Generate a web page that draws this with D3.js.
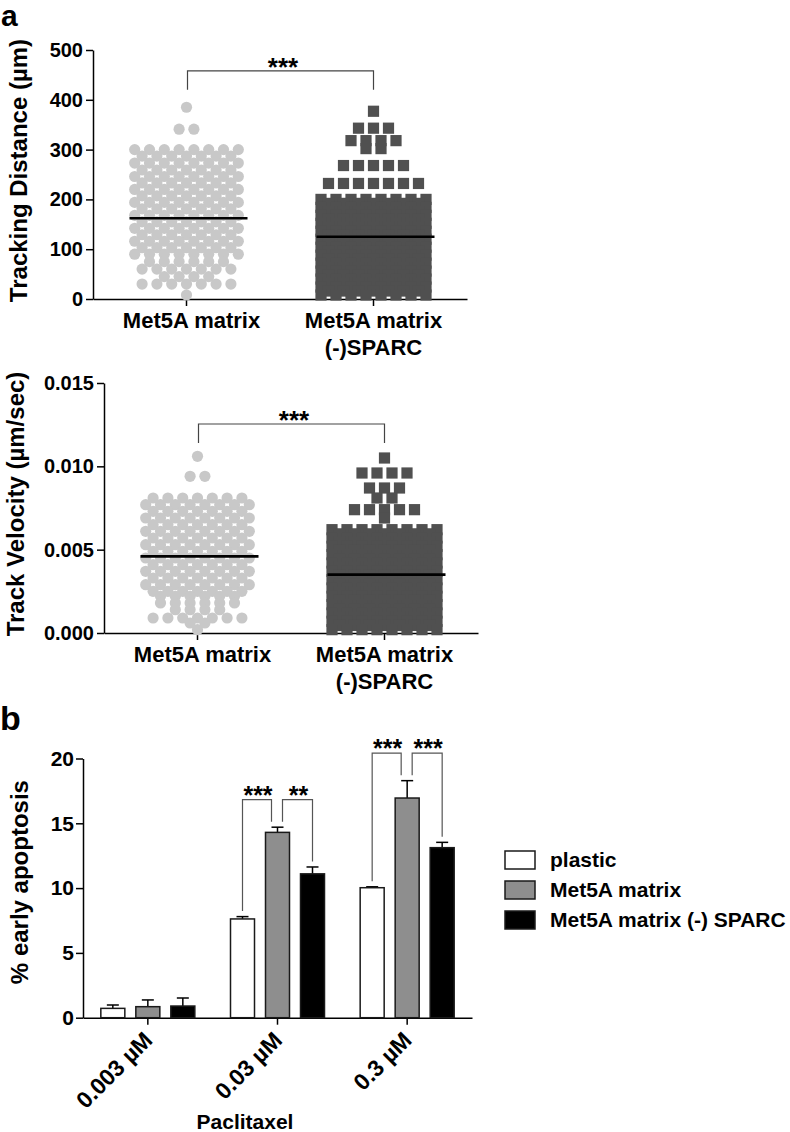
<!DOCTYPE html>
<html>
<head>
<meta charset="utf-8">
<script src="https://cdn.jsdelivr.net/npm/d3@7/dist/d3.min.js"></script>
<style>
body { margin: 0; background: #fff; }
text { font-family: "Liberation Sans", Arial, sans-serif; font-weight: bold; fill: #000; }
</style>
</head>
<body>
<script>
// ---------- panel a : scatter dot plots (rows of points: value + how many in the row) ----------
var scatterCats = ["Met5A matrix", "Met5A matrix\n(-)SPARC"];

var distMetVals   = [385, 341, 300, 287, 273, 259, 246, 233, 220, 207, 194, 181, 168, 155, 142, 129, 116, 103, 90, 75, 60, 45, 30, 8];
var distMetCounts = [1, 2, 8, 7, 8, 7, 8, 7, 8, 7, 8, 7, 8, 7, 8, 7, 8, 7, 8, 6, 7, 4, 7, 1];
var distSparcVals   = [377, 343, 318, 302, 268, 232, 200, 192, 184, 176, 168, 160, 152, 144, 136, 128, 120, 112, 104, 96, 88, 80, 72, 64, 56, 48, 40, 32, 24, 16, 8];
var distSparcCounts = [1, 3, 4, 2, 5, 7, 8, 7, 8, 7, 8, 7, 8, 7, 8, 7, 8, 7, 8, 7, 8, 7, 8, 7, 8, 7, 8, 7, 8, 7, 8];
var distMeans = [162, 125];
var distTicks = [0, 100, 200, 300, 400, 500];

var velMetVals   = [0.0106, 0.0094, 0.0081, 0.0077, 0.0073, 0.0069, 0.0065, 0.0061, 0.0057, 0.0053, 0.0049, 0.0045, 0.0041, 0.0037, 0.0033, 0.0029, 0.0025, 0.0022, 0.0018, 0.0014, 0.0009, 0.0006, 0.0002];
var velMetCounts = [1, 2, 7, 8, 7, 8, 7, 8, 7, 8, 7, 8, 7, 8, 7, 8, 7, 6, 6, 4, 7, 2, 1];
var velSparcVals   = [0.0105, 0.0096, 0.0087, 0.0081, 0.0074, 0.0069, 0.0062, 0.00595, 0.0057, 0.00545, 0.0052, 0.00495, 0.0047, 0.00445, 0.0042, 0.00395, 0.0037, 0.00345, 0.0032, 0.00295, 0.0027, 0.00245, 0.0022, 0.00195, 0.0017, 0.00145, 0.0012, 0.00095, 0.0007, 0.00045, 0.0002];
var velSparcCounts = [1, 4, 3, 2, 5, 1, 8, 7, 8, 7, 8, 7, 8, 7, 8, 7, 8, 7, 8, 7, 8, 7, 8, 7, 8, 7, 8, 7, 8, 7, 8];
var velMeans = [0.0046, 0.0035];
var velTicks = [0, 0.005, 0.010, 0.015];

// ---------- panel b : bars ----------
var doseCats = ["0.003 \u00b5M", "0.03 \u00b5M", "0.3 \u00b5M"];
var seriesNames = ["plastic", "Met5A matrix", "Met5A matrix (-) SPARC"];
var plasticMean = [0.72, 7.62, 10.03];
var plasticSem  = [0.26, 0.18, 0.07];
var met5aMean   = [0.85, 14.3, 16.95];
var met5aSem    = [0.52, 0.40, 1.34];
var sparcMean   = [0.90, 11.1, 13.12];
var sparcSem    = [0.62, 0.53, 0.41];
var apopTicks = [0, 5, 10, 15, 20];
// significance brackets: dose index, from series, to series, label
var sigDose  = [1, 1, 2, 2];
var sigFrom  = [0, 1, 0, 1];
var sigTo    = [1, 2, 1, 2];
var sigLabel = ["***", "**", "***", "***"];

var svg = d3.select("body").append("svg")
            .attr("width", 790)
            .attr("height", 1132);

svg.append("rect").attr("width", 790).attr("height", 1132).attr("fill", "#fff");

function styleAxis(g, fs){
    g.select(".domain").attr("stroke", "#000").attr("stroke-width", 1.5);
    g.selectAll(".tick line").attr("stroke", "#000").attr("stroke-width", 1.5);
    g.selectAll(".tick text").style("font-size", fs + "px");
}

function rowsToPoints(vals, counts, spacing){
    var pts = [];
    vals.forEach(function(v, i){
        var n = counts[i];
        for(var k = 0; k < n; k++){
            pts.push({v: v, dx: (k - (n - 1) / 2) * spacing});
        }
    });
    return pts;
}

function scatterPanel(p){
    var x = d3.scaleBand().domain([0, 1]).range([p.left, p.right]);
    var y = d3.scaleLinear().domain(p.domain).range([p.bottom, p.top]);

    var ya = svg.append("g")
                .attr("transform", "translate(" + p.left + ",0)")
                .call(d3.axisLeft(y).tickValues(p.ticks).tickFormat(p.fmt)
                        .tickSize(7).tickSizeOuter(0).tickPadding(3));
    styleAxis(ya, 20);

    var xa = svg.append("g")
                .attr("transform", "translate(0," + p.bottom + ")")
                .call(d3.axisBottom(x).tickSize(7).tickSizeOuter(0).tickFormat(""));
    styleAxis(xa, 22);

    var cx = [x(0) + x.bandwidth() / 2, x(1) + x.bandwidth() / 2];

    scatterCats.forEach(function(c, i){
        var t = svg.append("text")
                   .attr("y", p.bottom + 29)
                   .attr("text-anchor", "middle")
                   .style("font-size", "22px");
        c.split("\n").forEach(function(line, j){
            t.append("tspan").attr("x", cx[i] + (i == 0 ? 5 : 0)).attr("dy", j ? 27 : 0).text(line);
        });
    });

    svg.append("g").selectAll("circle")
       .data(rowsToPoints(p.vals0, p.counts0, 14.8))
       .join("circle")
       .attr("cx", function(d){ return cx[0] + d.dx; })
       .attr("cy", function(d){ return y(d.v); })
       .attr("r", 5.6)
       .attr("fill", "#c8c8c8");

    svg.append("g").selectAll("rect")
       .data(rowsToPoints(p.vals1, p.counts1, 15))
       .join("rect")
       .attr("x", function(d){ return cx[1] + d.dx - 5.6; })
       .attr("y", function(d){ return y(d.v) - 5.6; })
       .attr("width", 11.2)
       .attr("height", 11.2)
       .attr("fill", "#505050");

    p.means.forEach(function(m, i){
        svg.append("line")
           .attr("x1", cx[i] - 57).attr("x2", cx[i] + 61)
           .attr("y1", y(m)).attr("y2", y(m))
           .attr("stroke", "#000").attr("stroke-width", 2.6);
    });

    var by = y(p.brTop), bd = y(p.brDrop);
    svg.append("path")
       .attr("d", "M" + (cx[0] + 1) + "," + bd + "V" + by + "H" + cx[1] + "V" + bd)
       .attr("fill", "none").attr("stroke", "#444").attr("stroke-width", 1.2);
    svg.append("text")
       .attr("x", (cx[0] + cx[1]) / 2 + 3).attr("y", by + 5)
       .attr("text-anchor", "middle").style("font-size", "26px")
       .text("***");

    svg.append("text")
       .attr("transform", "translate(" + p.titleX + "," + ((p.top + p.bottom) / 2 - 4) + ") rotate(-90)")
       .attr("text-anchor", "middle").style("font-size", "24px")
       .text(p.title);
}

scatterPanel({
    left: 93, right: 467, top: 50, bottom: 299,
    domain: [0, 500], ticks: distTicks, fmt: d3.format("d"),
    vals0: distMetVals, counts0: distMetCounts,
    vals1: distSparcVals, counts1: distSparcCounts,
    means: distMeans, brTop: 458, brDrop: 420,
    titleX: 27, title: "Tracking Distance (\u00b5m)"
});

scatterPanel({
    left: 104, right: 478, top: 383, bottom: 633,
    domain: [0, 0.015], ticks: velTicks, fmt: d3.format(".3f"),
    vals0: velMetVals, counts0: velMetCounts,
    vals1: velSparcVals, counts1: velSparcCounts,
    means: velMeans, brTop: 0.01254, brDrop: 0.0114,
    titleX: 24, title: "Track Velocity (\u00b5m/sec)"
});

svg.append("text").attr("x", 1).attr("y", 26).style("font-size", "30px").text("a");
svg.append("text").attr("x", 0).attr("y", 730).style("font-size", "34px").text("b");

// ---------- panel b ----------
var means = [plasticMean, met5aMean, sparcMean];
var sems = [plasticSem, met5aSem, sparcSem];
var fills = ["#ffffff", "#8e8e8e", "#000000"];

var xg = d3.scaleBand().domain(doseCats).range([83, 472]);
var xs = d3.scaleBand().domain(seriesNames).range([-52.5, 52.5])
           .paddingInner(11 / 35).paddingOuter(11 / 70);
var yb = d3.scaleLinear().domain([0, 20]).range([1017.7, 758.5]);

function barX(si, gi){ return xg(doseCats[gi]) + xg.bandwidth() / 2 + xs(seriesNames[si]); }
function barC(si, gi){ return barX(si, gi) + xs.bandwidth() / 2; }
function barTop(si, gi){ return means[si][gi] + sems[si][gi]; }

var yaB = svg.append("g")
             .attr("transform", "translate(83,0)")
             .call(d3.axisLeft(yb).tickValues(apopTicks).tickSize(7).tickSizeOuter(0).tickPadding(2));
styleAxis(yaB, 21);

var xaB = svg.append("g")
             .attr("transform", "translate(0,1017.7)")
             .call(d3.axisBottom(xg).tickSize(7).tickSizeOuter(0));
styleAxis(xaB, 23);
xaB.selectAll(".tick text")
   .attr("x", 0).attr("y", 0).attr("dy", 0)
   .attr("text-anchor", "end")
   .attr("transform", "translate(6,24) rotate(-45)");

seriesNames.forEach(function(s, si){
    var g = svg.append("g");
    doseCats.forEach(function(d, gi){
        var c = barC(si, gi);
        g.append("line")
         .attr("x1", c).attr("x2", c)
         .attr("y1", yb(means[si][gi])).attr("y2", yb(barTop(si, gi)))
         .attr("stroke", "#000").attr("stroke-width", 1.5);
        g.append("line")
         .attr("x1", c - 6).attr("x2", c + 6)
         .attr("y1", yb(barTop(si, gi))).attr("y2", yb(barTop(si, gi)))
         .attr("stroke", "#000").attr("stroke-width", 1.5);
    });
    g.selectAll("rect")
     .data(means[si])
     .join("rect")
     .attr("x", function(v, gi){ return barX(si, gi); })
     .attr("y", function(v){ return yb(v); })
     .attr("width", xs.bandwidth())
     .attr("height", function(v){ return yb(0) - yb(v); })
     .attr("fill", fills[si])
     .attr("stroke", "#1a1a1a").attr("stroke-width", 1.5);
});

sigLabel.forEach(function(lab, k){
    var gi = sigDose[k], a = sigFrom[k], b = sigTo[k];
    var xa = barC(a, gi) + (a == 1 ? 5 : 0);
    var xb = barC(b, gi) - (b == 1 ? 6 : 0);
    var maxTop = 0;
    for(var s = 0; s < 3; s++) maxTop = Math.max(maxTop, barTop(s, gi));
    var top = yb(maxTop) - 27.5;
    svg.append("path")
       .attr("d", "M" + xa + "," + (yb(barTop(a, gi)) - 5.5) + "V" + top + "H" + xb + "V" + (yb(barTop(b, gi)) - 5.5))
       .attr("fill", "none").attr("stroke", "#555").attr("stroke-width", 1.2);
    svg.append("text")
       .attr("x", (xa + xb) / 2 + 1).attr("y", top + 4)
       .attr("text-anchor", "middle").style("font-size", "25px")
       .text(lab);
});

svg.append("text")
   .attr("transform", "translate(28," + ((yb(0) + yb(20)) / 2 - 6) + ") rotate(-90)")
   .attr("text-anchor", "middle").style("font-size", "24px")
   .text("% early apoptosis");

svg.append("text")
   .attr("x", 245).attr("y", 1129)
   .attr("text-anchor", "middle").style("font-size", "21px")
   .text("Paclitaxel");

// legend
var leg = svg.append("g").attr("transform", "translate(505,851)");
seriesNames.forEach(function(s, i){
    leg.append("rect")
       .attr("x", 0).attr("y", i * 30)
       .attr("width", 30).attr("height", 18)
       .attr("fill", fills[i]).attr("stroke", "#1a1a1a").attr("stroke-width", 1.5);
    leg.append("text")
       .attr("x", 45).attr("y", i * 30 + 15.5)
       .style("font-size", "21px")
       .text(s);
});
</script>
</body>
</html>
